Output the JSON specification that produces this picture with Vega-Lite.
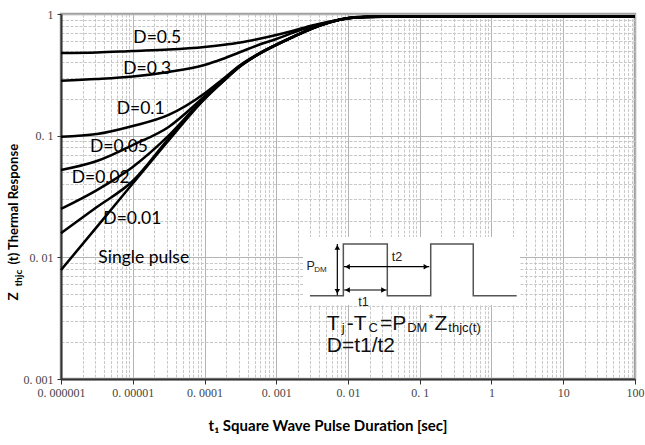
{
  "$schema": "https://vega.github.io/schema/vega-lite/v6.json",
  "width": 574,
  "height": 365,
  "autosize": {"type": "none"},
  "padding": {"left": 61, "top": 14, "right": 10, "bottom": 66},
  "background": "white",
  "config": {"view": {"stroke": "#a0a0a0", "strokeWidth": 2.5}},
  "resolve": {"axis": {"y": "independent"}},
  "datasets": {
    "curves": [
      {"s": "single", "t": 1e-6, "z": 0.00787}, {"s": "single", "t": 3.162e-6, "z": 0.0178}, {"s": "single", "t": 1e-5, "z": 0.0404}, {"s": "single", "t": 3.162e-5, "z": 0.0914}, {"s": "single", "t": 1e-4, "z": 0.1995}, {"s": "single", "t": 1.778e-4, "z": 0.2754}, {"s": "single", "t": 3.162e-4, "z": 0.3715}, {"s": "single", "t": 5.623e-4, "z": 0.4645}, {"s": "single", "t": 1e-3, "z": 0.556}, {"s": "single", "t": 1.778e-3, "z": 0.653}, {"s": "single", "t": 3.162e-3, "z": 0.759}, {"s": "single", "t": 5.623e-3, "z": 0.855}, {"s": "single", "t": 0.01, "z": 0.923}, {"s": "single", "t": 0.01778, "z": 0.946}, {"s": "single", "t": 0.03162, "z": 0.95}, {"s": "single", "t": 0.1, "z": 0.95}, {"s": "single", "t": 1, "z": 0.95}, {"s": "single", "t": 10, "z": 0.95}, {"s": "single", "t": 100, "z": 0.95},
      {"s": "D=0.01", "t": 1e-6, "z": 0.0158}, {"s": "D=0.01", "t": 3.162e-6, "z": 0.0259}, {"s": "D=0.01", "t": 1e-5, "z": 0.0424}, {"s": "D=0.01", "t": 3.162e-5, "z": 0.0945}, {"s": "D=0.01", "t": 1e-4, "z": 0.2015}, {"s": "D=0.01", "t": 1.778e-4, "z": 0.277}, {"s": "D=0.01", "t": 3.162e-4, "z": 0.373}, {"s": "D=0.01", "t": 5.623e-4, "z": 0.466}, {"s": "D=0.01", "t": 1e-3, "z": 0.557}, {"s": "D=0.01", "t": 1.778e-3, "z": 0.654}, {"s": "D=0.01", "t": 3.162e-3, "z": 0.76}, {"s": "D=0.01", "t": 5.623e-3, "z": 0.856}, {"s": "D=0.01", "t": 0.01, "z": 0.923}, {"s": "D=0.01", "t": 0.01778, "z": 0.946}, {"s": "D=0.01", "t": 0.03162, "z": 0.95}, {"s": "D=0.01", "t": 100, "z": 0.95},
      {"s": "D=0.02", "t": 1e-6, "z": 0.025}, {"s": "D=0.02", "t": 3.162e-6, "z": 0.0357}, {"s": "D=0.02", "t": 1e-5, "z": 0.0553}, {"s": "D=0.02", "t": 3.162e-5, "z": 0.1}, {"s": "D=0.02", "t": 1e-4, "z": 0.205}, {"s": "D=0.02", "t": 1.778e-4, "z": 0.279}, {"s": "D=0.02", "t": 3.162e-4, "z": 0.375}, {"s": "D=0.02", "t": 5.623e-4, "z": 0.467}, {"s": "D=0.02", "t": 1e-3, "z": 0.558}, {"s": "D=0.02", "t": 1.778e-3, "z": 0.655}, {"s": "D=0.02", "t": 3.162e-3, "z": 0.761}, {"s": "D=0.02", "t": 5.623e-3, "z": 0.856}, {"s": "D=0.02", "t": 0.01, "z": 0.923}, {"s": "D=0.02", "t": 0.01778, "z": 0.946}, {"s": "D=0.02", "t": 0.03162, "z": 0.95}, {"s": "D=0.02", "t": 100, "z": 0.95},
      {"s": "D=0.05", "t": 1e-6, "z": 0.0522}, {"s": "D=0.05", "t": 3.162e-6, "z": 0.0619}, {"s": "D=0.05", "t": 1e-5, "z": 0.0838}, {"s": "D=0.05", "t": 3.162e-5, "z": 0.118}, {"s": "D=0.05", "t": 1e-4, "z": 0.21}, {"s": "D=0.05", "t": 1.778e-4, "z": 0.282}, {"s": "D=0.05", "t": 3.162e-4, "z": 0.377}, {"s": "D=0.05", "t": 5.623e-4, "z": 0.468}, {"s": "D=0.05", "t": 1e-3, "z": 0.559}, {"s": "D=0.05", "t": 1.778e-3, "z": 0.656}, {"s": "D=0.05", "t": 3.162e-3, "z": 0.762}, {"s": "D=0.05", "t": 5.623e-3, "z": 0.857}, {"s": "D=0.05", "t": 0.01, "z": 0.924}, {"s": "D=0.05", "t": 0.01778, "z": 0.947}, {"s": "D=0.05", "t": 0.03162, "z": 0.95}, {"s": "D=0.05", "t": 100, "z": 0.95},
      {"s": "D=0.1", "t": 1e-6, "z": 0.098}, {"s": "D=0.1", "t": 3.162e-6, "z": 0.103}, {"s": "D=0.1", "t": 1e-5, "z": 0.12}, {"s": "D=0.1", "t": 3.162e-5, "z": 0.148}, {"s": "D=0.1", "t": 1e-4, "z": 0.222}, {"s": "D=0.1", "t": 1.778e-4, "z": 0.29}, {"s": "D=0.1", "t": 3.162e-4, "z": 0.381}, {"s": "D=0.1", "t": 5.623e-4, "z": 0.47}, {"s": "D=0.1", "t": 1e-3, "z": 0.56}, {"s": "D=0.1", "t": 1.778e-3, "z": 0.657}, {"s": "D=0.1", "t": 3.162e-3, "z": 0.763}, {"s": "D=0.1", "t": 5.623e-3, "z": 0.858}, {"s": "D=0.1", "t": 0.01, "z": 0.924}, {"s": "D=0.1", "t": 0.01778, "z": 0.947}, {"s": "D=0.1", "t": 0.03162, "z": 0.95}, {"s": "D=0.1", "t": 100, "z": 0.95},
      {"s": "D=0.3", "t": 1e-6, "z": 0.283}, {"s": "D=0.3", "t": 3.162e-6, "z": 0.292}, {"s": "D=0.3", "t": 1e-5, "z": 0.306}, {"s": "D=0.3", "t": 3.162e-5, "z": 0.334}, {"s": "D=0.3", "t": 1e-4, "z": 0.381}, {"s": "D=0.3", "t": 1.778e-4, "z": 0.427}, {"s": "D=0.3", "t": 3.162e-4, "z": 0.487}, {"s": "D=0.3", "t": 5.623e-4, "z": 0.556}, {"s": "D=0.3", "t": 1e-3, "z": 0.623}, {"s": "D=0.3", "t": 1.778e-3, "z": 0.706}, {"s": "D=0.3", "t": 3.162e-3, "z": 0.792}, {"s": "D=0.3", "t": 5.623e-3, "z": 0.862}, {"s": "D=0.3", "t": 0.01, "z": 0.925}, {"s": "D=0.3", "t": 0.01778, "z": 0.948}, {"s": "D=0.3", "t": 0.03162, "z": 0.95}, {"s": "D=0.3", "t": 100, "z": 0.95},
      {"s": "D=0.5", "t": 1e-6, "z": 0.478}, {"s": "D=0.5", "t": 3.162e-6, "z": 0.483}, {"s": "D=0.5", "t": 1e-5, "z": 0.497}, {"s": "D=0.5", "t": 3.162e-5, "z": 0.511}, {"s": "D=0.5", "t": 1e-4, "z": 0.536}, {"s": "D=0.5", "t": 1.778e-4, "z": 0.556}, {"s": "D=0.5", "t": 3.162e-4, "z": 0.583}, {"s": "D=0.5", "t": 5.623e-4, "z": 0.623}, {"s": "D=0.5", "t": 1e-3, "z": 0.672}, {"s": "D=0.5", "t": 1.778e-3, "z": 0.732}, {"s": "D=0.5", "t": 3.162e-3, "z": 0.804}, {"s": "D=0.5", "t": 5.623e-3, "z": 0.867}, {"s": "D=0.5", "t": 0.01, "z": 0.926}, {"s": "D=0.5", "t": 0.01778, "z": 0.948}, {"s": "D=0.5", "t": 0.03162, "z": 0.95}, {"s": "D=0.5", "t": 100, "z": 0.95}
    ],
    "labels": [
      {"text": "D=0.5", "t": 1.019e-5, "z": 0.574},
      {"text": "D=0.3", "t": 7.38e-6, "z": 0.3194},
      {"text": "D=0.1", "t": 5.97e-6, "z": 0.150},
      {"text": "D=0.05", "t": 2.53e-6, "z": 0.0738},
      {"text": "D=0.02", "t": 1.41e-6, "z": 0.0406},
      {"text": "D=0.01", "t": 3.89e-6, "z": 0.0188},
      {"text": "Single pulse", "t": 3.31e-6, "z": 0.00893}
    ],
    "box": [{"t": 0.00236, "t_end": 2.49, "z": 0.00406, "z_end": 0.01469}],
    "wave": [
      {"i": 0, "t": 0.00295, "z": 0.00484}, {"i": 1, "t": 0.00861, "z": 0.00484}, {"i": 2, "t": 0.00861, "z": 0.01288}, {"i": 3, "t": 0.0353, "z": 0.01288}, {"i": 4, "t": 0.0353, "z": 0.00484}, {"i": 5, "t": 0.1422, "z": 0.00484}, {"i": 6, "t": 0.1422, "z": 0.01288}, {"i": 7, "t": 0.557, "z": 0.01288}, {"i": 8, "t": 0.557, "z": 0.00484}, {"i": 9, "t": 2.244, "z": 0.00484}
    ],
    "arrows": [
      {"t": 0.0071, "t_end": 0.0071, "z": 0.00487, "z_end": 0.01288},
      {"t": 0.00879, "t_end": 0.1358, "z": 0.00838, "z_end": 0.00838},
      {"t": 0.00879, "t_end": 0.0346, "z": 0.00539, "z_end": 0.00539}
    ],
    "heads": [
      {"dir": "up", "t": 0.0071, "z": 0.01205},
      {"dir": "down", "t": 0.0071, "z": 0.00524},
      {"dir": "left", "t": 0.00984, "z": 0.00838},
      {"dir": "right", "t": 0.1222, "z": 0.00838},
      {"dir": "left", "t": 0.00984, "z": 0.00539},
      {"dir": "right", "t": 0.0313, "z": 0.00539}
    ],
    "formulaBig": [
      {"text": "T", "t": 0.00505, "z": 0.00253},
      {"text": "-T", "t": 0.009598, "z": 0.00253},
      {"text": "=P", "t": 0.02786, "z": 0.00253},
      {"text": "Z", "t": 0.1603, "z": 0.00253},
      {"text": "D=t1/t2", "t": 0.00505, "z": 0.001676}
    ],
    "formulaSub": [
      {"text": "j", "t": 0.008204, "z": 0.002434},
      {"text": "C", "t": 0.01933, "z": 0.002434},
      {"text": "DM", "t": 0.06686, "z": 0.002434},
      {"text": "*", "t": 0.1320, "z": 0.00289},
      {"text": "thjc(t)", "t": 0.2499, "z": 0.002434}
    ],
    "insetLabels": [
      {"text": "P", "t": 0.00265, "z": 0.00787},
      {"text": "t2", "t": 0.0406, "z": 0.00939},
      {"text": "t1", "t": 0.01394, "z": 0.0040}
    ],
    "insetSub": [
      {"text": "DM", "t": 0.00339, "z": 0.00753}
    ]
  },
  "layer": [
    {
      "data": {"name": "box"},
      "mark": {"type": "rect", "color": "white"},
      "encoding": {
        "x": {"field": "t", "type": "quantitative", "scale": {"type": "log", "domain": [1e-6, 100]},
          "axis": {
            "values": [1e-6,2e-6,3e-6,4e-6,5e-6,6e-6,7e-6,8e-6,9e-6,1e-5,2e-5,3e-5,4e-5,5e-5,6e-5,7e-5,8e-5,9e-5,1e-4,2e-4,3e-4,4e-4,5e-4,6e-4,7e-4,8e-4,9e-4,0.001,0.002,0.003,0.004,0.005,0.006,0.007,0.008,0.009,0.01,0.02,0.03,0.04,0.05,0.06,0.07,0.08,0.09,0.1,0.2,0.3,0.4,0.5,0.6,0.7,0.8,0.9,1,2,3,4,5,6,7,8,9,10,20,30,40,50,60,70,80,90,100],
            "title": "t₁ Square Wave Pulse Duration [sec]",
            "titleFont": "Lato", "titleFontSize": 15, "titleFontWeight": "bold", "titleColor": "black",
            "titleX": 266.5, "titleY": 51, "titleAlign": "center", "titleBaseline": "alphabetic",
            "labelExpr": "abs(log(datum.value)/LN10 - round(log(datum.value)/LN10)) < 0.001 ? ['0. 000001','0. 00001','0. 0001','0. 001','0. 01','0. 1','1','10','100'][round(log(datum.value)/LN10)+6] : ''",
            "labelFont": "Liberation Serif", "labelFontSize": 12, "labelColor": "#444", "labelPadding": 3, "labelOverlap": false, "labelFlush": false,
            "tickSize": 5, "tickColor": "#333",
            "tickOpacity": {"condition": {"test": "abs(log(datum.value)/LN10 - round(log(datum.value)/LN10)) < 0.001", "value": 1}, "value": 0},
            "domainColor": "#333", "domainWidth": 2,
            "grid": true, "gridWidth": 1,
            "gridColor": {"condition": {"test": "abs(log(datum.value)/LN10 - round(log(datum.value)/LN10)) < 0.001", "value": "#b4b4b4"}, "value": "#c8c8c8"},
            "gridDash": {"condition": {"test": "abs(log(datum.value)/LN10 - round(log(datum.value)/LN10)) < 0.001", "value": []}, "value": [3, 1.5]}
          }},
        "x2": {"field": "t_end"},
        "y": {"field": "z", "type": "quantitative", "scale": {"type": "log", "domain": [0.001, 1]},
          "axis": {"orient": "left", "title": "Z", "labels": false, "ticks": false, "domain": false, "grid": false,
            "titleAngle": 270, "titleX": -43.3, "titleY": 286, "titleAlign": "left", "titleBaseline": "alphabetic",
            "titleFont": "Lato", "titleFontSize": 13.5, "titleFontWeight": "bold", "titleColor": "black"}},
        "y2": {"field": "z_end"}
      }
    },
    {
      "data": {"name": "curves"},
      "mark": {"type": "line", "color": "black", "strokeWidth": 2.5, "interpolate": "monotone"},
      "encoding": {
        "x": {"field": "t", "type": "quantitative", "scale": {"type": "log", "domain": [1e-6, 100]}},
        "y": {"field": "z", "type": "quantitative", "scale": {"type": "log", "domain": [0.001, 1]},
          "axis": {
            "orient": "left",
            "values": [0.001,0.002,0.003,0.004,0.005,0.006,0.007,0.008,0.009,0.01,0.02,0.03,0.04,0.05,0.06,0.07,0.08,0.09,0.1,0.2,0.3,0.4,0.5,0.6,0.7,0.8,0.9,1],
            "title": "(t) Thermal Response",
            "titleAngle": 270, "titleX": -43.3, "titleY": 250, "titleAlign": "left", "titleBaseline": "alphabetic",
            "titleFont": "Lato", "titleFontSize": 13, "titleFontWeight": "bold", "titleColor": "black",
            "labelExpr": "abs(log(datum.value)/LN10 - round(log(datum.value)/LN10)) < 0.001 ? ['0. 001','0. 01','0. 1','1'][round(log(datum.value)/LN10)+3] : ''",
            "labelFont": "Liberation Serif", "labelFontSize": 12, "labelColor": "#444", "labelPadding": 4, "labelOverlap": false, "labelFlush": false,
            "tickSize": 4, "tickColor": "#333",
            "tickOpacity": {"condition": {"test": "abs(log(datum.value)/LN10 - round(log(datum.value)/LN10)) < 0.001", "value": 1}, "value": 0},
            "domainColor": "#333", "domainWidth": 2,
            "grid": true, "gridWidth": 1,
            "gridColor": {"condition": {"test": "abs(log(datum.value)/LN10 - round(log(datum.value)/LN10)) < 0.001", "value": "#b4b4b4"}, "value": "#c8c8c8"},
            "gridDash": {"condition": {"test": "abs(log(datum.value)/LN10 - round(log(datum.value)/LN10)) < 0.001", "value": []}, "value": [3, 1.5]}
          }},
        "detail": {"field": "s"}
      }
    },
    {
      "data": {"name": "labels"},
      "mark": {"type": "text", "align": "left", "baseline": "alphabetic", "font": "Lato", "fontSize": 17.5, "color": "black"},
      "encoding": {
        "x": {"field": "t", "type": "quantitative", "scale": {"type": "log", "domain": [1e-6, 100]}},
        "y": {"field": "z", "type": "quantitative", "scale": {"type": "log", "domain": [0.001, 1]}, "axis": null},
        "text": {"field": "text"}
      }
    },
    {
      "data": {"name": "wave"},
      "mark": {"type": "line", "color": "#555555", "strokeWidth": 1.5},
      "encoding": {
        "x": {"field": "t", "type": "quantitative", "scale": {"type": "log", "domain": [1e-6, 100]}},
        "y": {"field": "z", "type": "quantitative", "scale": {"type": "log", "domain": [0.001, 1]}, "axis": null},
        "order": {"field": "i"}
      }
    },
    {
      "data": {"name": "arrows"},
      "mark": {"type": "rule", "color": "black", "strokeWidth": 1.2},
      "encoding": {
        "x": {"field": "t", "type": "quantitative", "scale": {"type": "log", "domain": [1e-6, 100]}},
        "x2": {"field": "t_end"},
        "y": {"field": "z", "type": "quantitative", "scale": {"type": "log", "domain": [0.001, 1]}, "axis": null},
        "y2": {"field": "z_end"}
      }
    },
    {
      "data": {"name": "heads"},
      "mark": {"type": "point", "filled": true, "color": "black", "opacity": 1, "size": 30},
      "encoding": {
        "x": {"field": "t", "type": "quantitative", "scale": {"type": "log", "domain": [1e-6, 100]}},
        "y": {"field": "z", "type": "quantitative", "scale": {"type": "log", "domain": [0.001, 1]},
          "axis": {"orient": "left", "title": "thjc", "labels": false, "ticks": false, "domain": false, "grid": false,
            "titleAngle": 270, "titleX": -40, "titleY": 272, "titleAlign": "left", "titleBaseline": "alphabetic",
            "titleFont": "Lato", "titleFontSize": 10, "titleFontWeight": "bold", "titleColor": "black"}},
        "shape": {"field": "dir", "type": "nominal", "scale": {"domain": ["up", "down", "left", "right"], "range": ["triangle-up", "triangle-down", "triangle-left", "triangle-right"]}, "legend": null}
      }
    },
    {
      "data": {"name": "formulaBig"},
      "mark": {"type": "text", "align": "left", "baseline": "alphabetic", "font": "Liberation Sans", "fontSize": 21, "color": "#111"},
      "encoding": {
        "x": {"field": "t", "type": "quantitative", "scale": {"type": "log", "domain": [1e-6, 100]}},
        "y": {"field": "z", "type": "quantitative", "scale": {"type": "log", "domain": [0.001, 1]}, "axis": null},
        "text": {"field": "text"}
      }
    },
    {
      "data": {"name": "formulaSub"},
      "mark": {"type": "text", "align": "left", "baseline": "alphabetic", "font": "Liberation Sans", "fontSize": 13, "color": "#111"},
      "encoding": {
        "x": {"field": "t", "type": "quantitative", "scale": {"type": "log", "domain": [1e-6, 100]}},
        "y": {"field": "z", "type": "quantitative", "scale": {"type": "log", "domain": [0.001, 1]}, "axis": null},
        "text": {"field": "text"}
      }
    },
    {
      "data": {"name": "insetLabels"},
      "mark": {"type": "text", "align": "left", "baseline": "alphabetic", "font": "Liberation Sans", "fontSize": 12.5, "color": "#222"},
      "encoding": {
        "x": {"field": "t", "type": "quantitative", "scale": {"type": "log", "domain": [1e-6, 100]}},
        "y": {"field": "z", "type": "quantitative", "scale": {"type": "log", "domain": [0.001, 1]}, "axis": null},
        "text": {"field": "text"}
      }
    },
    {
      "data": {"name": "insetSub"},
      "mark": {"type": "text", "align": "left", "baseline": "alphabetic", "font": "Liberation Sans", "fontSize": 8, "color": "#222"},
      "encoding": {
        "x": {"field": "t", "type": "quantitative", "scale": {"type": "log", "domain": [1e-6, 100]}},
        "y": {"field": "z", "type": "quantitative", "scale": {"type": "log", "domain": [0.001, 1]}, "axis": null},
        "text": {"field": "text"}
      }
    }
  ]
}
